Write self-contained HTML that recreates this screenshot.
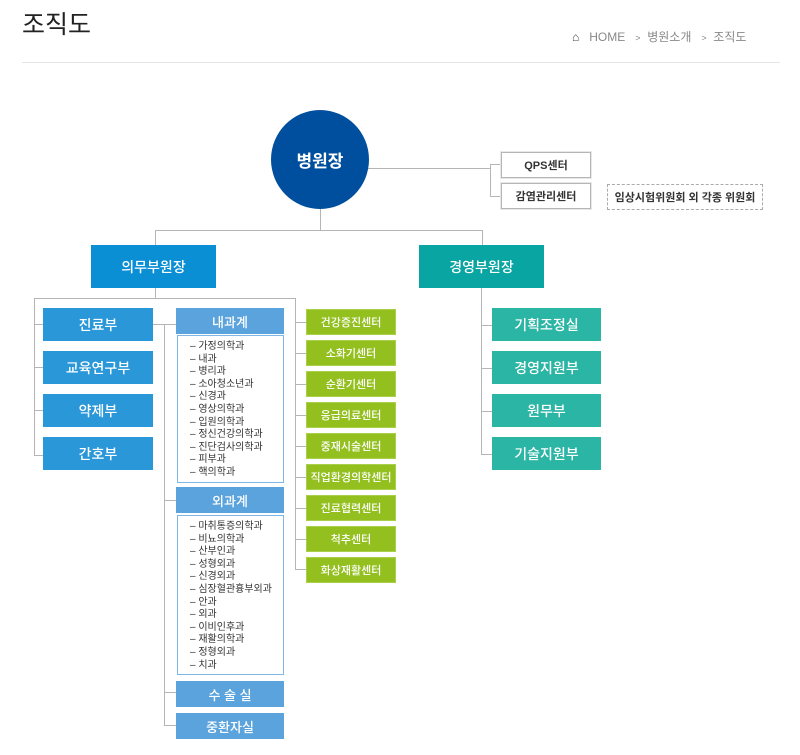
<!DOCTYPE html>
<html><head><meta charset="utf-8"><style>
*{margin:0;padding:0;box-sizing:border-box}
body{width:800px;height:755px;background:#fff;position:relative;overflow:hidden;font-family:"Liberation Sans","Noto Sans CJK KR",sans-serif;color:#222}
.a{position:absolute}
.l{position:absolute;background:#b5b5b5}
.b{position:absolute;display:flex;align-items:center;justify-content:center;color:#fff;font-weight:500}
.blue{background:#2a97d9;font-size:14px}
.sub{background:#5ba3dc;font-size:13px}
.g{background:#93c01f;font-size:11px;border:1px solid #a9d04a}
.t{background:#2bb5a4;font-size:14px}
.list{position:absolute;border:1px solid #7fb6e4;font-size:10px;line-height:12.6px;color:#333;padding-left:12px}
.w{position:absolute;border:1px solid #b5b5b5;background:#fff;display:flex;align-items:center;justify-content:center;font-size:11px;font-weight:bold;color:#333;box-shadow:0 0 0 1px #e8e8e8}
</style></head><body>
<div class="a" style="left:22px;top:5px;font-size:25px;color:#222">조직도</div>
<div class="a" style="left:572px;top:28px;font-size:12px;color:#888;white-space:nowrap"><span style="color:#444">&#8962;</span>&nbsp;&nbsp; HOME &nbsp; <span style="font-size:9px">&gt;</span> &nbsp;병원소개 &nbsp; <span style="font-size:9px">&gt;</span> &nbsp;조직도</div>
<div class="l" style="left:22px;top:62px;width:758px;height:1px;background:#e5e5e5"></div>

<div class="l" style="left:360px;top:168px;width:130px;height:1px"></div>
<div class="l" style="left:490px;top:164px;width:1px;height:32px"></div>
<div class="l" style="left:490px;top:164px;width:11px;height:1px"></div>
<div class="l" style="left:490px;top:196px;width:11px;height:1px"></div>
<div class="a" style="left:271px;top:110px;width:98px;height:99px;border-radius:50%;background:#004f9e;color:#fff;font-weight:bold;font-size:17px;display:flex;align-items:center;justify-content:center">병원장</div>
<div class="w" style="left:501px;top:152px;width:90px;height:26px">QPS센터</div>
<div class="w" style="left:501px;top:183px;width:90px;height:26px">감염관리센터</div>
<div class="a" style="left:607px;top:184px;width:156px;height:26px;border:1px dashed #aaa;display:flex;align-items:center;justify-content:center;font-size:11px;font-weight:bold;color:#333">임상시험위원회 외 각종 위원회</div>

<div class="l" style="left:320px;top:209px;width:1px;height:21px"></div>
<div class="l" style="left:155px;top:230px;width:328px;height:1px"></div>
<div class="l" style="left:155px;top:230px;width:1px;height:15px"></div>
<div class="l" style="left:482px;top:230px;width:1px;height:15px"></div>
<div class="b" style="left:91px;top:245px;width:125px;height:43px;background:#0a8fd4;font-size:14px">의무부원장</div>
<div class="b" style="left:419px;top:245px;width:125px;height:43px;background:#09a5a2;font-size:14px">경영부원장</div>

<div class="l" style="left:155px;top:288px;width:1px;height:10px"></div>
<div class="l" style="left:34px;top:298px;width:262px;height:1px"></div>
<div class="l" style="left:34px;top:298px;width:1px;height:157px"></div>
<div class="l" style="left:295px;top:298px;width:1px;height:271px"></div>
<div class="l" style="left:34px;top:324px;width:9px;height:1px"></div>
<div class="l" style="left:34px;top:367px;width:9px;height:1px"></div>
<div class="l" style="left:34px;top:410px;width:9px;height:1px"></div>
<div class="l" style="left:34px;top:455px;width:9px;height:1px"></div>
<div class="b blue" style="left:43px;top:308px;width:110px;height:33px">진료부</div>
<div class="b blue" style="left:43px;top:351px;width:110px;height:33px">교육연구부</div>
<div class="b blue" style="left:43px;top:394px;width:110px;height:33px">약제부</div>
<div class="b blue" style="left:43px;top:437px;width:110px;height:33px">간호부</div>

<div class="l" style="left:153px;top:324px;width:23px;height:1px"></div>
<div class="l" style="left:164px;top:324px;width:1px;height:402px"></div>
<div class="l" style="left:164px;top:500px;width:12px;height:1px"></div>
<div class="l" style="left:164px;top:692px;width:12px;height:1px"></div>
<div class="l" style="left:164px;top:725px;width:12px;height:1px"></div>
<div class="b sub" style="left:176px;top:308px;width:108px;height:26px">내과계</div>
<div class="list" style="left:177px;top:335px;width:107px;height:148px;padding-top:5px">
– 가정의학과<br>– 내과<br>– 병리과<br>– 소아청소년과<br>– 신경과<br>– 영상의학과<br>– 입원의학과<br>– 정신건강의학과<br>– 진단검사의학과<br>– 피부과<br>– 핵의학과</div>
<div class="b sub" style="left:176px;top:487px;width:108px;height:26px">외과계</div>
<div class="list" style="left:177px;top:515px;width:107px;height:160px;padding-top:5px">
– 마취통증의학과<br>– 비뇨의학과<br>– 산부인과<br>– 성형외과<br>– 신경외과<br>– 심장혈관흉부외과<br>– 안과<br>– 외과<br>– 이비인후과<br>– 재활의학과<br>– 정형외과<br>– 치과</div>
<div class="b sub" style="left:176px;top:681px;width:108px;height:26px">수 술 실</div>
<div class="b sub" style="left:176px;top:713px;width:108px;height:26px">중환자실</div>

<div class="l" style="left:295px;top:322px;width:11px;height:1px"></div>
<div class="l" style="left:295px;top:353px;width:11px;height:1px"></div>
<div class="l" style="left:295px;top:384px;width:11px;height:1px"></div>
<div class="l" style="left:295px;top:415px;width:11px;height:1px"></div>
<div class="l" style="left:295px;top:446px;width:11px;height:1px"></div>
<div class="l" style="left:295px;top:477px;width:11px;height:1px"></div>
<div class="l" style="left:295px;top:508px;width:11px;height:1px"></div>
<div class="l" style="left:295px;top:539px;width:11px;height:1px"></div>
<div class="l" style="left:295px;top:569px;width:11px;height:1px"></div>
<div class="b g" style="left:306px;top:309px;width:90px;height:26px">건강증진센터</div>
<div class="b g" style="left:306px;top:340px;width:90px;height:26px">소화기센터</div>
<div class="b g" style="left:306px;top:371px;width:90px;height:26px">순환기센터</div>
<div class="b g" style="left:306px;top:402px;width:90px;height:26px">응급의료센터</div>
<div class="b g" style="left:306px;top:433px;width:90px;height:26px">중재시술센터</div>
<div class="b g" style="left:306px;top:464px;width:90px;height:26px">직업환경의학센터</div>
<div class="b g" style="left:306px;top:495px;width:90px;height:26px">진료협력센터</div>
<div class="b g" style="left:306px;top:526px;width:90px;height:26px">척추센터</div>
<div class="b g" style="left:306px;top:557px;width:90px;height:26px">화상재활센터</div>

<div class="l" style="left:481px;top:288px;width:1px;height:166px"></div>
<div class="l" style="left:481px;top:325px;width:11px;height:1px"></div>
<div class="l" style="left:481px;top:368px;width:11px;height:1px"></div>
<div class="l" style="left:481px;top:411px;width:11px;height:1px"></div>
<div class="l" style="left:481px;top:454px;width:11px;height:1px"></div>
<div class="b t" style="left:492px;top:308px;width:109px;height:33px">기획조정실</div>
<div class="b t" style="left:492px;top:351px;width:109px;height:33px">경영지원부</div>
<div class="b t" style="left:492px;top:394px;width:109px;height:33px">원무부</div>
<div class="b t" style="left:492px;top:437px;width:109px;height:33px">기술지원부</div>
</body></html>
